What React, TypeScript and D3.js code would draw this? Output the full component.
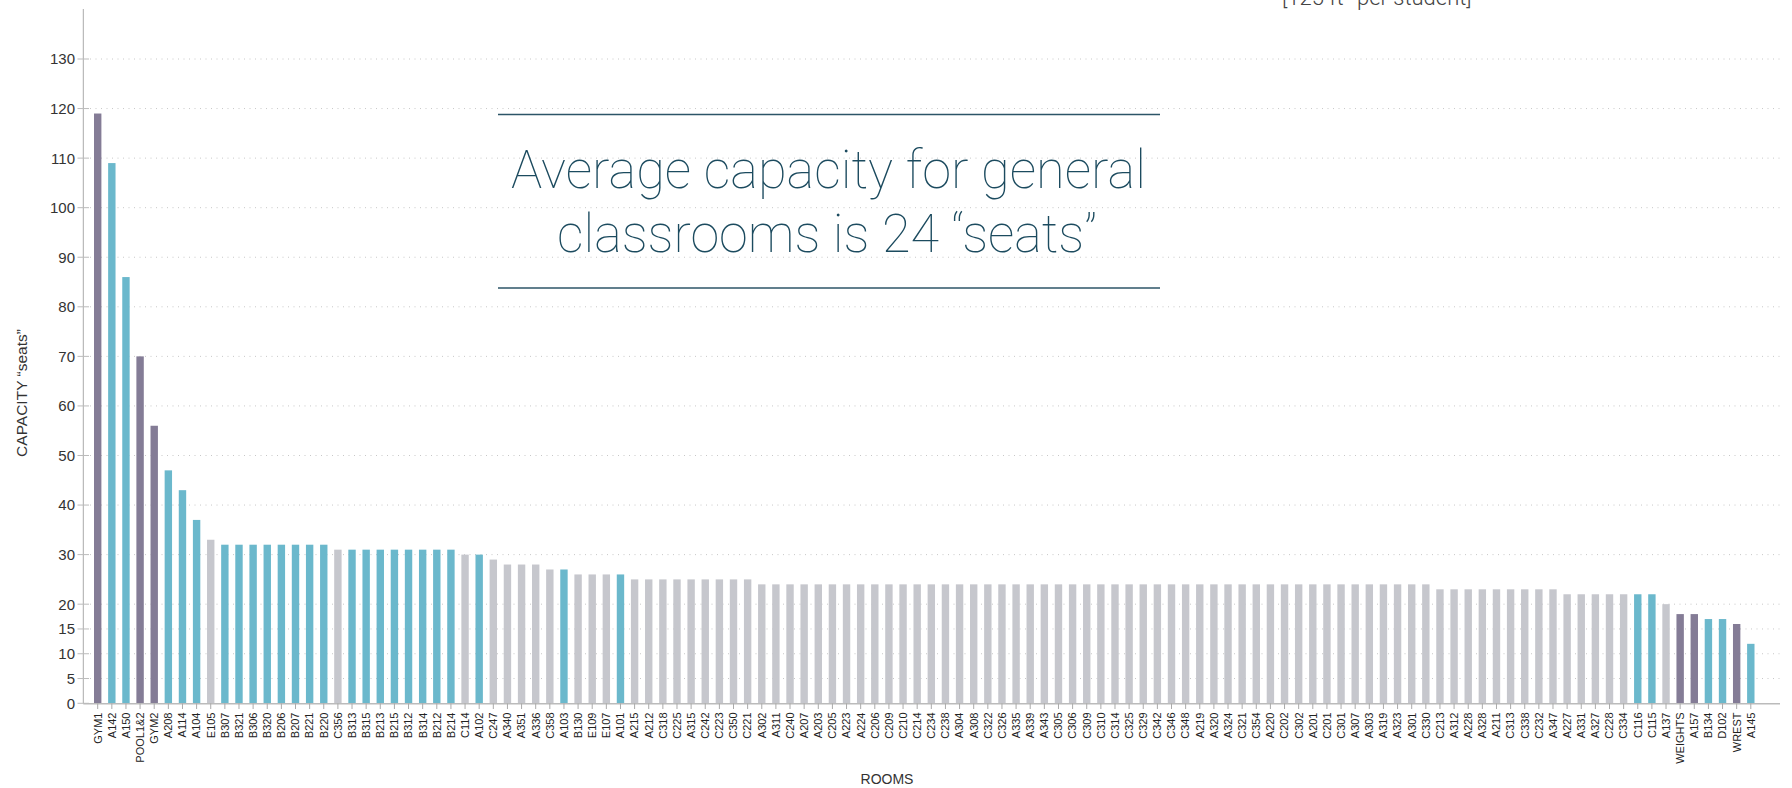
import React from "react";
import * as d3 from "d3";

const rooms = ["GYM1","A142","A150","POOL1&2","GYM2","A208","A114","A104","E105","B307","B321","B306","B320","B206","B207","B221","B220","C356","B313","B315","B213","B215","B312","B314","B212","B214","C114","A102","C247","A340","A351","A336","C358","A103","B130","E109","E107","A101","A215","A212","C318","C225","A315","C242","C223","C350","C221","A302","A311","C240","A207","A203","C205","A223","A224","C206","C209","C210","C214","C234","C238","A304","A308","C322","C326","A335","A339","A343","C305","C306","C309","C310","C314","C325","C329","C342","C346","C348","A219","A320","A324","C321","C354","A220","C202","C302","A201","C201","C301","A307","A303","A319","A323","A301","C330","C213","A312","A228","A328","A211","C313","C338","C232","A347","A227","A331","A327","C228","C334","C116","C115","A137","WEIGHTS","A157","B134","D102","WREST","A145"];

const seats = [119,109,86,70,56,47,43,37,33,32,32,32,32,32,32,32,32,31,31,31,31,31,31,31,31,31,30,30,29,28,28,28,27,27,26,26,26,26,25,25,25,25,25,25,25,25,25,24,24,24,24,24,24,24,24,24,24,24,24,24,24,24,24,24,24,24,24,24,24,24,24,24,24,24,24,24,24,24,24,24,24,24,24,24,24,24,24,24,24,24,24,24,24,24,24,23,23,23,23,23,23,23,23,23,22,22,22,22,22,22,22,20,18,18,17,17,16,12];

// P = athletic space, T = specialized room, G = general classroom
const roomType = ["P","T","T","P","P","T","T","T","G","T","T","T","T","T","T","T","T","G","T","T","T","T","T","T","T","T","G","T","G","G","G","G","G","T","G","G","G","T","G","G","G","G","G","G","G","G","G","G","G","G","G","G","G","G","G","G","G","G","G","G","G","G","G","G","G","G","G","G","G","G","G","G","G","G","G","G","G","G","G","G","G","G","G","G","G","G","G","G","G","G","G","G","G","G","G","G","G","G","G","G","G","G","G","G","G","G","G","G","G","T","T","G","P","P","T","T","P","T"];

const yTicks = [0,5,10,15,20,30,40,50,60,70,80,90,100,110,120,130];

const titleLines = ["Average capacity for general", "classrooms is 24 \u201cseats\u201d"];
const noteText = "[125 ft\u00b2 per student]";

const colors: Record<string, string> = { P: "#847c96", T: "#6bb8cc", G: "#c6c7cd" };

export default function App() {
  const x = d3.scalePoint<string>().domain(rooms).range([97.7, 1750.8]);
  const y = d3.scaleLinear().domain([0, 130]).range([703.3, 59]);
  const axisLeft = 83.3;
  const axisRight = 1780;
  const barW = 7.4;
  const font = "'Liberation Sans', Arial, sans-serif";
  const thin = "Roboto, Inter, Lato, sans-serif";

  return (
    <svg width={1792} height={788} style={{ position: "absolute", left: 0, top: 0 }} fontFamily={font}>
      {/* grid */}
      {yTicks.filter(t => t > 0).map(t => (
        <line key={"g" + t} x1={90} x2={axisRight} y1={y(t)} y2={y(t)} stroke="#c8c8c8" strokeWidth={1} strokeDasharray="1 4.5" />
      ))}
      {/* title block */}
      <line x1={498} x2={1160} y1={114.5} y2={114.5} stroke="#2c5567" strokeWidth={1.6} />
      <line x1={498} x2={1160} y1={288} y2={288} stroke="#2c5567" strokeWidth={1.6} />
      <text x={511} y={188} fontFamily={thin} fontWeight={100} fontSize={53} fill="#1c4b5f" textLength={635} lengthAdjust="spacingAndGlyphs">{titleLines[0]}</text>
      <text x={557} y={252} fontFamily={thin} fontWeight={100} fontSize={53} fill="#1c4b5f" textLength={540} lengthAdjust="spacingAndGlyphs">{titleLines[1]}</text>
      <text x={1282} y={5} fontFamily={thin} fontWeight={300} fontSize={22} fill="#444">{noteText}</text>

      {/* bars */}
      {rooms.map((r, i) => (
        <rect key={r} x={(x(r) as number) - barW / 2} y={y(seats[i])} width={barW} height={y(0) - y(seats[i])} fill={colors[roomType[i]]} />
      ))}

      {/* y axis */}
      <line x1={axisLeft} x2={axisLeft} y1={9} y2={703.3} stroke="#aaa" strokeWidth={1} />
      {yTicks.map(t => (
        <g key={"t" + t}>
          <line x1={77.5} x2={89} y1={y(t)} y2={y(t)} stroke="#bbb" strokeWidth={1} />
          <text x={75} y={y(t)} dy="0.36em" textAnchor="end" fontSize={15} fill="#333">{t}</text>
        </g>
      ))}
      <text transform={`translate(27,393) rotate(-90)`} textAnchor="middle" fontSize={15.5} fill="#333">CAPACITY {"\u201cseats\u201d"}</text>

      {/* x axis */}
      <line x1={axisLeft} x2={axisRight} y1={703.8} y2={703.8} stroke="#bbb" strokeWidth={1.5} />
      {rooms.map(r => (
        <g key={"x" + r}>
          <line x1={x(r) as number} x2={x(r) as number} y1={703.3} y2={709} stroke="#aaa" strokeWidth={1} />
          <text transform={`translate(${x(r)},712.5) rotate(-90)`} dy="0.35em" textAnchor="end" fontSize={11} fill="#222">{r}</text>
        </g>
      ))}
      <text x={887} y={784} textAnchor="middle" fontSize={14} fill="#333">ROOMS</text>
    </svg>
  );
}
